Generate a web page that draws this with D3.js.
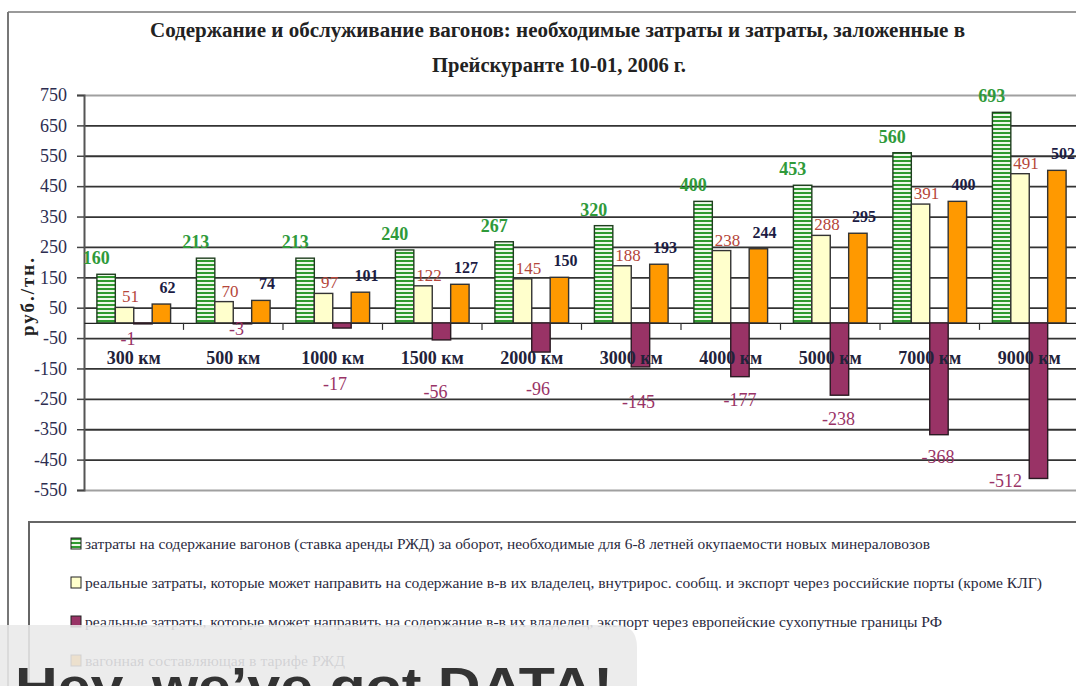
<!DOCTYPE html>
<html>
<head>
<meta charset="utf-8">
<script src="https://cdn.jsdelivr.net/npm/d3@7/dist/d3.min.js"></script>
<style>
  html, body { margin: 0; padding: 0; background: #fff; }
  svg { display: block; font-family: "Liberation Serif", "DejaVu Serif", serif; }
</style>
</head>
<body>
<svg id="chart" width="1076" height="686"></svg>
<script>
// --- data ---
const categories = ['300 км', '500 км', '1000 км', '1500 км', '2000 км', '3000 км', '4000 км', '5000 км', '7000 км', '9000 км'];
const needCost   = [160, 213, 213, 240, 267, 320, 400, 453, 560, 693];
const realDomestic = [51, 70, 97, 122, 145, 188, 238, 288, 391, 491];
const realExport = [-1, -3, -17, -56, -96, -145, -177, -238, -368, -512];
const tariffPart = [62, 74, 101, 127, 150, 193, 244, 295, 400, 502];
const yTicks = [750, 650, 550, 450, 350, 250, 150, 50, -50, -150, -250, -350, -450, -550];
const legendLabels = [
  'затраты на содержание вагонов (ставка аренды РЖД) за оборот, необходимые для 6-8 летней окупаемости новых минераловозов',
  'реальные затраты, которые может направить на содержание в-в их владелец, внутрирос. сообщ. и экспорт через российские порты (кроме КЛГ)',
  'реальные затраты, которые может направить на содержание в-в их владелец, экспорт через европейские сухопутные границы РФ',
  'вагонная составляющая в тарифе РЖД'
];

// --- styles ---
const series = [
  {key: 'need', values: needCost, fill: 'url(#stripes)', stroke: '#1f3f1f', label: '#2f9a3a', weight: 'bold', size: 18, dx: -10, dy: -10},
  {key: 'dom', values: realDomestic, fill: '#ffffcc', stroke: '#333', label: '#b5463a', weight: 'normal', size: 17, dx: 6, dy: -5},
  {key: 'exp', values: realExport, fill: '#993366', stroke: '#2a1a22', label: '#993366', weight: 'normal', size: 18, dx: 0, dy: 0},
  {key: 'tar', values: tariffPart, fill: '#ff9900', stroke: '#333', label: '#1c1c44', weight: 'bold', size: 16, dx: 6, dy: -11}
];
// hand-placed offsets of the negative labels (px from the bar end)
const negLabelPos = [[-15, 22], [-6, 11], [-7, 62], [-6, 58], [-3, 43], [-2, 41], [0, 29], [-1, 30], [-1, 28], [-33, 9]];
const legendWidths = [845, 957, 857, 260];

const svg = d3.select('#chart');

const defs = svg.append('defs');
const pat = defs.append('pattern')
    .attr('id', 'stripes')
    .attr('patternUnits', 'userSpaceOnUse')
    .attr('width', 4).attr('height', 4);
pat.append('rect').attr('width', 4).attr('height', 4).attr('fill', '#eef8ea');
pat.append('rect').attr('width', 4).attr('height', 2).attr('fill', '#2f9a2f');

// chart outer frame
svg.append('line').attr('x1', 8).attr('x2', 1076).attr('y1', 12).attr('y2', 12)
    .attr('stroke', '#9a9a9a').attr('stroke-width', 2);
svg.append('line').attr('x1', 8).attr('x2', 8).attr('y1', 12).attr('y2', 686)
    .attr('stroke', '#777').attr('stroke-width', 2);

// title
svg.append('text')
    .attr('x', 150).attr('y', 37)
    .attr('textLength', 815).attr('lengthAdjust', 'spacingAndGlyphs')
    .attr('font-size', 20).attr('font-weight', 'bold').attr('fill', '#222')
    .text('Содержание и обслуживание вагонов: необходимые затраты и затраты, заложенные в');
svg.append('text')
    .attr('x', 432).attr('y', 72)
    .attr('textLength', 254).attr('lengthAdjust', 'spacingAndGlyphs')
    .attr('font-size', 20).attr('font-weight', 'bold').attr('fill', '#222')
    .text('Прейскуранте 10-01, 2006 г.');

// scales
const left = 84, right = 1079;
const y = d3.scaleLinear().domain([-550, 750]).range([490, 95]);
const x0 = d3.scaleBand().domain(categories).range([left, right]).padding(0);
const x1 = d3.scaleBand().domain(series.map(s => s.key)).range([0, x0.bandwidth()])
    .paddingInner(0).paddingOuter(0.7);

// gridlines
const grid = svg.append('g')
    .attr('transform', 'translate(' + left + ',0)')
    .call(d3.axisLeft(y).tickValues(yTicks).tickSize(-(right - left)).tickFormat(''));
grid.select('.domain').remove();
grid.selectAll('.tick line')
    .attr('stroke', d => (d === 750 || d === -550) ? '#a0a0a0' : '#333')
    .attr('stroke-width', 1.8);

// y axis
const yAxis = svg.append('g')
    .attr('transform', 'translate(' + left + ',0)')
    .call(d3.axisLeft(y).tickValues(yTicks).tickSize(7).tickPadding(10).tickFormat(d => String(d)));
yAxis.select('.domain').attr('stroke', '#555').attr('stroke-width', 2);
yAxis.selectAll('.tick line').attr('stroke', '#444').attr('stroke-width', 1.5);
yAxis.selectAll('.tick text')
    .style('font-family', '"Liberation Serif", serif')
    .attr('font-size', 18).attr('fill', '#2d2d50');

svg.append('text')
    .attr('transform', 'translate(34,296) rotate(-90)')
    .attr('text-anchor', 'middle')
    .attr('font-size', 19).attr('font-weight', 'bold').attr('fill', '#222')
    .attr('letter-spacing', 2)
    .text('руб./тн.');

// zero (category) axis
const xAxis = svg.append('g')
    .attr('transform', 'translate(0,' + y(0) + ')')
    .call(d3.axisBottom(x0).tickSize(0).tickFormat(''));
xAxis.select('.domain').attr('stroke', '#222').attr('stroke-width', 1.2);
svg.append('g').selectAll('line')
    .data(categories.slice(1))
    .join('line')
    .attr('x1', d => x0(d)).attr('x2', d => x0(d))
    .attr('y1', y(0)).attr('y2', y(0) + 7)
    .attr('stroke', '#333').attr('stroke-width', 1.2);

// bars
const groups = svg.append('g').selectAll('g')
    .data(categories)
    .join('g')
    .attr('transform', d => 'translate(' + x0(d) + ',0)');

groups.selectAll('rect')
    .data((c, i) => series.map(s => ({s: s, v: s.values[i], i: i})))
    .join('rect')
    .attr('x', d => x1(d.s.key))
    .attr('y', d => y(Math.max(0, d.v)))
    .attr('width', x1.bandwidth())
    .attr('height', d => Math.max(1, Math.abs(y(d.v) - y(0))))
    .attr('fill', d => d.s.fill)
    .attr('stroke', d => d.s.stroke)
    .attr('stroke-width', 1.4);

// category labels
svg.append('g').selectAll('text')
    .data(categories)
    .join('text')
    .attr('x', d => x0(d) + x0.bandwidth() / 2)
    .attr('y', y(0) + 41)
    .attr('text-anchor', 'middle')
    .attr('font-size', 18).attr('font-weight', 'bold').attr('fill', '#22223a')
    .text(d => d);

// value labels
groups.selectAll('text.val')
    .data((c, i) => series.map(s => ({s: s, v: s.values[i], i: i})))
    .join('text')
    .attr('class', 'val')
    .attr('x', d => x1(d.s.key) + x1.bandwidth() / 2 + (d.v < 0 ? negLabelPos[d.i][0] : d.s.dx))
    .attr('y', d => d.v < 0 ? y(d.v) + negLabelPos[d.i][1] : y(d.v) + d.s.dy)
    .attr('text-anchor', 'middle')
    .attr('font-size', d => d.s.size)
    .attr('font-weight', d => d.s.weight)
    .attr('fill', d => d.s.label)
    .text(d => d.v);

// legend
svg.append('rect')
    .attr('x', 29).attr('y', 522).attr('width', 1100).attr('height', 300)
    .attr('fill', '#fff').attr('stroke', '#666').attr('stroke-width', 2);

const legend = svg.append('g').selectAll('g')
    .data(series)
    .join('g')
    .attr('transform', (d, i) => 'translate(71,' + (538 + i * 39) + ')');
legend.append('rect')
    .attr('width', 10).attr('height', 11)
    .attr('fill', d => d.fill).attr('stroke', '#222').attr('stroke-width', 1);
legend.append('text')
    .attr('x', 14).attr('y', 11)
    .attr('font-size', 15).attr('fill', '#2a2a40')
    .attr('textLength', (d, i) => legendWidths[i]).attr('lengthAdjust', 'spacingAndGlyphs')
    .text((d, i) => legendLabels[i]);

// overlay banner at bottom of the screenshot
svg.append('path')
    .attr('d', 'M0,625 H615 Q637,625 637,647 V686 H0 Z')
    .attr('fill', '#e9e9e9').attr('fill-opacity', 0.88);
svg.append('text')
    .attr('x', 15).attr('y', 704)
    .style('font-family', '"Liberation Sans", "Open Sans", sans-serif')
    .attr('font-size', 52).attr('font-weight', 'bold').attr('fill', '#333')
    .attr('textLength', 598).attr('lengthAdjust', 'spacingAndGlyphs')
    .text('Hey, we’ve got DATA!');
</script>
</body>
</html>
